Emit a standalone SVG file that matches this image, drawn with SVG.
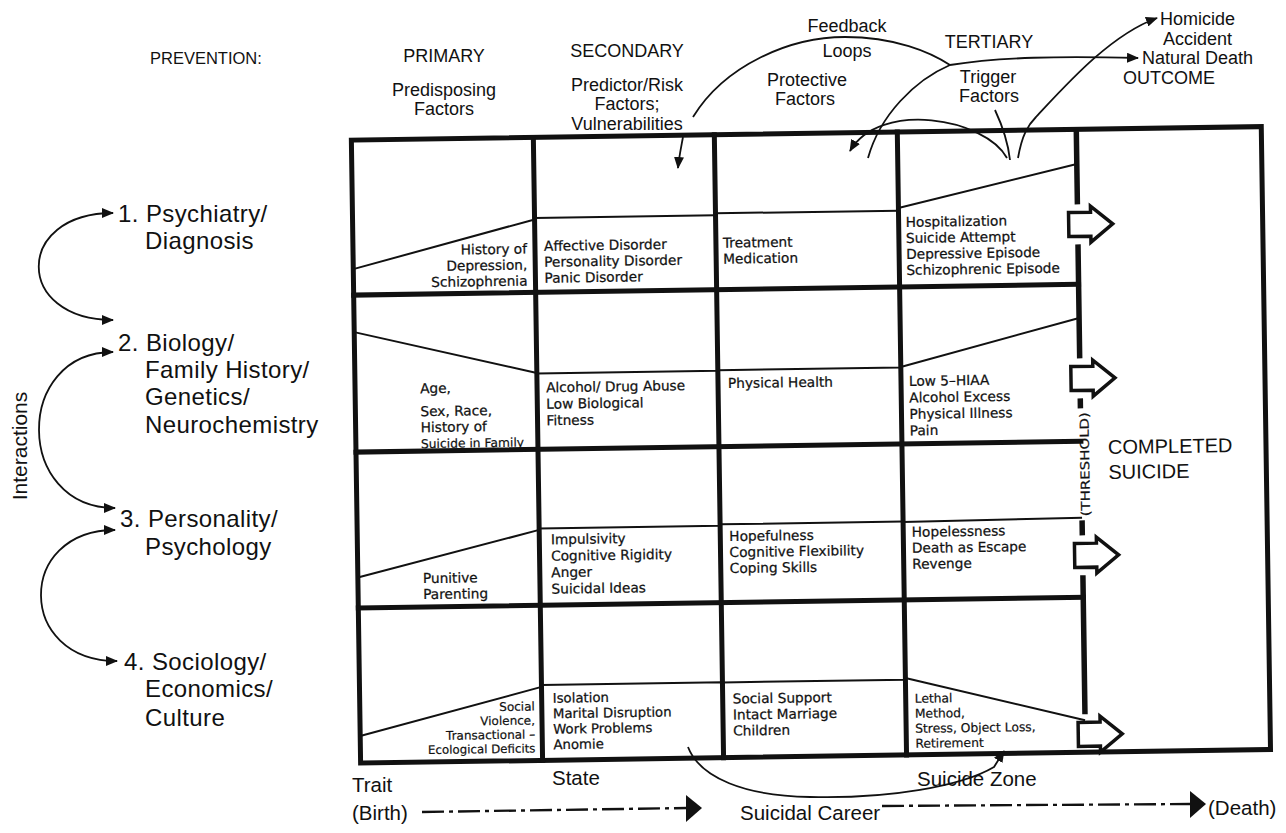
<svg xmlns="http://www.w3.org/2000/svg" width="1286" height="833" viewBox="0 0 1286 833">
<defs>
<style>
.thick{stroke:#111;stroke-width:5;fill:none;stroke-linecap:square}
.thr{stroke:#111;stroke-width:5.5;fill:none}
.thin{stroke:#111;stroke-width:2;fill:none}
.conn{stroke:#111;stroke-width:1.8;fill:none}
.ct{font-family:"DejaVu Sans",sans-serif;font-size:13.7px;fill:#111;stroke:#111;stroke-width:0.25}
.cs{font-family:"DejaVu Sans",sans-serif;font-size:12.3px;fill:#111;stroke:#111;stroke-width:0.2}
.hd{font-family:"Liberation Sans",Arial,sans-serif;font-size:18px;fill:#111}
.lb{font-family:"Liberation Sans",Arial,sans-serif;font-size:24px;letter-spacing:0.4px;fill:#111}
.bt{font-family:"Liberation Sans",Arial,sans-serif;font-size:20.5px;fill:#111}
.ta{fill:#fff;stroke:#111;stroke-width:3.5;stroke-linejoin:miter}
.mid{text-anchor:middle}
.end{text-anchor:end}
</style>
<marker id="ah" viewBox="0 0 12 10" refX="11" refY="5" markerWidth="12" markerHeight="10" orient="auto-start-reverse" markerUnits="userSpaceOnUse">
<path d="M0,0 L12,5 L0,10 z" fill="#111"/>
</marker>
</defs>
<rect width="1286" height="833" fill="#fff"/>

<g id="headers">
<text class="hd" x="150" y="64" style="font-size:16.5px">PREVENTION:</text>
<text class="hd mid" x="444" y="62">PRIMARY</text>
<text class="hd mid" x="627" y="57">SECONDARY</text>
<text class="hd mid" x="444" y="96">Predisposing</text>
<text class="hd mid" x="444" y="115">Factors</text>
<text class="hd mid" x="627" y="91">Predictor/Risk</text>
<text class="hd mid" x="627" y="110">Factors;</text>
<text class="hd mid" x="627" y="129.5">Vulnerabilities</text>
<text class="hd mid" x="847" y="32">Feedback</text>
<text class="hd mid" x="847" y="57">Loops</text>
<text class="hd mid" x="807" y="86">Protective</text>
<text class="hd mid" x="805" y="105">Factors</text>
<text class="hd mid" x="989" y="48">TERTIARY</text>
<text class="hd mid" x="988" y="83">Trigger</text>
<text class="hd mid" x="989" y="102">Factors</text>
<text class="hd" x="1160" y="25">Homicide</text>
<text class="hd" x="1163" y="44.5">Accident</text>
<text class="hd" x="1142" y="64">Natural Death</text>
<text class="hd" x="1123" y="83.5">OUTCOME</text>
</g>

<g id="domains">
<text class="lb" transform="rotate(-90 27 446)" x="27" y="446" text-anchor="middle" style="font-size:21px;letter-spacing:0">Interactions</text>
<text class="lb" x="118" y="221.5">1. Psychiatry/</text>
<text class="lb" x="145" y="248.5">Diagnosis</text>
<text class="lb" x="118" y="351">2. Biology/</text>
<text class="lb" x="145" y="378">Family History/</text>
<text class="lb" x="145" y="405">Genetics/</text>
<text class="lb" x="145" y="432.5">Neurochemistry</text>
<text class="lb" x="120" y="526.5">3. Personality/</text>
<text class="lb" x="145" y="554.5">Psychology</text>
<text class="lb" x="124" y="669.5">4. Sociology/</text>
<text class="lb" x="145" y="696.5">Economics/</text>
<text class="lb" x="145" y="725.5">Culture</text>
</g>

<g id="matrix" transform="rotate(-0.85 700 450)">
<g id="grid">
<path class="thick" d="M356,135 H1266 V758 H356 Z"/>
<path class="thick" d="M538,135 V758 M719,135 V758 M902,135 V758"/>
<path class="thick" d="M356,290 H1081 M356,447 H1081 M356,603 H1081"/>
<path class="thr" d="M1081,135 V210 M1081,250 V364 M1081,404 V414 M1081,526 V541 M1081,581 V720"/>
<text class="cs" transform="rotate(-90 1089 470)" x="1089" y="470" text-anchor="middle" textLength="104" lengthAdjust="spacingAndGlyphs">(THRESHOLD)</text>
</g>
<g id="levels">
<path class="thin" d="M356,264 L538,217 M538,215.5 H719 M719,213.6 H902 M902,211 L1081,169.6"/>
<path class="thin" d="M356,327 L538,370.6 M538,371 H719 M719,370.5 H902 M902,370 L1081,323.6"/>
<path class="thin" d="M356,572.5 L538,527.5 M538,526 H719 M719,524.6 H902 M902,525 L1081,523.5"/>
<path class="thin" d="M356,731 L538,684.5 M538,682.5 H719 M719,682.7 H902 M902,681 L1081,726"/>
</g>
<g id="row1">
<text class="ct end" x="530" y="251">History of</text>
<text class="ct end" x="530" y="267">Depression,</text>
<text class="ct end" x="530" y="283">Schizophrenia</text>
<text class="ct" x="547" y="248.5">Affective Disorder</text>
<text class="ct" x="547" y="264.5">Personality Disorder</text>
<text class="ct" x="547" y="280.5">Panic Disorder</text>
<text class="ct" x="726" y="248">Treatment</text>
<text class="ct" x="726" y="264">Medication</text>
<text class="ct" x="909" y="230">Hospitalization</text>
<text class="ct" x="909" y="246">Suicide Attempt</text>
<text class="ct" x="909" y="262">Depressive Episode</text>
<text class="ct" x="909" y="278">Schizophrenic Episode</text>
</g>
<g id="row2">
<text class="ct" x="421" y="389">Age,</text>
<text class="ct" x="421" y="412">Sex, Race,</text>
<text class="ct" x="421" y="428">History of</text>
<text class="cs" x="421" y="444">Suicide in Family</text>
<text class="ct" x="547" y="390">Alcohol/ Drug Abuse</text>
<text class="ct" x="547" y="406.5">Low Biological</text>
<text class="ct" x="547" y="423">Fitness</text>
<text class="ct" x="729" y="388.5">Physical Health</text>
<text class="ct" x="910" y="389">Low 5–HIAA</text>
<text class="ct" x="910" y="405.5">Alcohol Excess</text>
<text class="ct" x="910" y="422">Physical Illness</text>
<text class="ct" x="910" y="438.5">Pain</text>
</g>
<g id="row3">
<text class="ct" x="421" y="579">Punitive</text>
<text class="ct" x="421" y="595">Parenting</text>
<text class="ct" x="549.5" y="542">Impulsivity</text>
<text class="ct" x="549.5" y="558.5">Cognitive Rigidity</text>
<text class="ct" x="549.5" y="575">Anger</text>
<text class="ct" x="549.5" y="591.5">Suicidal Ideas</text>
<text class="ct" x="728" y="541.5">Hopefulness</text>
<text class="ct" x="728" y="557.5">Cognitive Flexibility</text>
<text class="ct" x="728" y="573.5">Coping Skills</text>
<text class="ct" x="910.5" y="540">Hopelessness</text>
<text class="ct" x="910.5" y="556">Death as Escape</text>
<text class="ct" x="910.5" y="572">Revenge</text>
</g>
<g id="row4">
<text class="cs end" x="531" y="708" style="font-size:12px">Social</text>
<text class="cs end" x="531" y="722" style="font-size:12px">Violence,</text>
<text class="cs end" x="531" y="736" style="font-size:12px">Transactional –</text>
<text class="cs end" x="531" y="750" style="font-size:11.8px">Ecological Deficits</text>
<text class="ct" x="549" y="700.5" style="font-size:13.3px">Isolation</text>
<text class="ct" x="549" y="716" style="font-size:13.3px">Marital Disruption</text>
<text class="ct" x="549" y="731.5" style="font-size:13.3px">Work Problems</text>
<text class="ct" x="549" y="747" style="font-size:13.3px">Anomie</text>
<text class="ct" x="729" y="704">Social Support</text>
<text class="ct" x="729" y="720">Intact Marriage</text>
<text class="ct" x="729" y="736">Children</text>
<text class="cs" x="911" y="706">Lethal</text>
<text class="cs" x="911" y="721">Method,</text>
<text class="cs" x="911" y="736">Stress, Object Loss,</text>
<text class="cs" x="911" y="751">Retirement</text>
</g>
<g id="threshold-arrows">
<path class="ta" d="M1072,218 H1094 V212 L1116,230 L1094,248 V242 H1072 Z"/>
<path class="ta" d="M1072,372 H1094 V366 L1116,384 L1094,402 V396 H1072 Z"/>
<path class="ta" d="M1073,549 H1095 V543 L1117,561 L1095,579 V573 H1073 Z"/>
<path class="ta" d="M1074,728 H1096 V722 L1118,740 L1096,758 V752 H1074 Z"/>
</g>
<g id="completed">
<text class="bt" x="1108" y="460" style="font-size:20px">COMPLETED</text>
<text class="bt" x="1108" y="485" style="font-size:20px">SUICIDE</text>
</g>
</g>

<g id="timeline">
<text class="bt" x="352" y="792">Trait</text>
<text class="bt" x="552" y="785">State</text>
<text class="bt" x="917" y="786">Suicide Zone</text>
<text class="bt" x="352" y="820">(Birth)</text>
<text class="bt" x="740" y="820">Suicidal Career</text>
<text class="bt" x="1208" y="815">(Death)</text>
</g>

<g id="connectors">
<path class="conn" d="M693,117 C725,65 790,37 845,37 C895,37 930,52 950,65"/>
<path class="conn" d="M683,137 C681,148 679,157 678,168" marker-end="url(#ah)"/>
<path class="conn" d="M950,65 C915,80 880,115 868,158"/>
<path class="conn" d="M950,65 C1000,57 1060,56 1138,58" marker-end="url(#ah)"/>
<path class="conn" d="M1007,158 C985,118 880,100 850,151" marker-end="url(#ah)"/>
<path class="conn" d="M995,110 C1002,125 1008,142 1010,160"/>
<path class="conn" d="M1018,158 C1022,135 1028,125 1036,117 C1066,85 1110,35 1157,18" marker-end="url(#ah)"/>
<path class="conn" d="M113,213 C14,213 14,320 113,320" marker-start="url(#ah)" marker-end="url(#ah)"/>
<path class="conn" d="M113,352 C14,352 14,508 115,508" marker-start="url(#ah)" marker-end="url(#ah)"/>
<path class="conn" d="M115,530 C16,530 16,661 117,661" marker-start="url(#ah)" marker-end="url(#ah)"/>
<path class="conn" d="M688,747 C700,778 745,796 810,797 C890,799 962,786 994,767 L1004,751" marker-end="url(#ah)"/>
<path class="conn" d="M422,812 L687,808" stroke-dasharray="22 5 4 5" style="stroke-width:2.4"/>
<polygon points="686,795 702,808 686,822" fill="#111"/>
<path class="conn" d="M882,806 L1190,804" stroke-dasharray="22 5 4 5" style="stroke-width:2.4"/>
<polygon points="1190,791 1206,804 1190,818" fill="#111"/>
</g>
</svg>
